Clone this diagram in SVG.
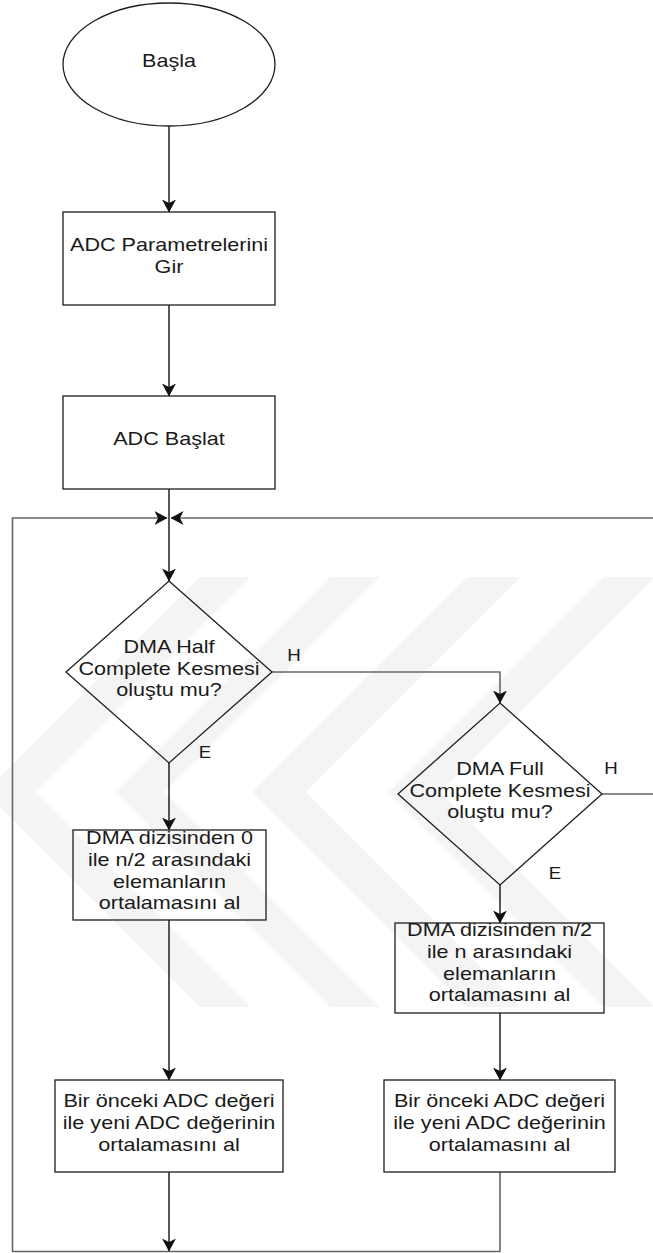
<svg xmlns="http://www.w3.org/2000/svg" width="653" height="1253" viewBox="0 0 653 1253">
  <style>
    .shape { fill: none; stroke: #1e1e1e; stroke-width: 1.3; }
    .edge { fill: none; stroke: #111; stroke-width: 1.4; }
    .loop { fill: none; stroke: #666; stroke-width: 1.6; }
    .lbl { font-family: "Liberation Sans", Arial, sans-serif; font-size: 18px; fill: #1a1a1a; text-anchor: middle; }
    .yn { font-family: "Liberation Sans", Arial, sans-serif; font-size: 17px; fill: #1a1a1a; text-anchor: middle; }
    .mark { fill: #f4f4f4; }
  </style>
  <defs>
    <marker id="arrow" viewBox="0 0 13 14" refX="12.5" refY="7" markerWidth="13" markerHeight="14" markerUnits="userSpaceOnUse" orient="auto">
      <path d="M0,0 L13,7 L0,14 L3.5,7 Z" fill="#111"/>
    </marker>
  </defs>

  <rect width="653" height="1253" fill="#ffffff"/>

  <!-- faint background emblem: nested chevrons -->
  <g id="emblem">
    <polygon class="mark" points="200,577 250,577 35,792 250,1007 200,1007 -15,792"/>
    <polygon class="mark" points="330,577 380,577 165,792 380,1007 330,1007 115,792"/>
    <polygon class="mark" points="467,577 521,577 306,792 521,1007 467,1007 252,792"/>
    <polygon class="mark" points="604,577 655,577 440,792 655,1007 604,1007 389,792"/>
  </g>

  <!-- connectors -->
  <g id="connectors">
    <line class="edge" x1="169" y1="126" x2="169" y2="212" marker-end="url(#arrow)"/>
    <line class="edge" x1="169" y1="305" x2="169" y2="396" marker-end="url(#arrow)"/>
    <line class="edge" x1="169" y1="489" x2="169" y2="581" marker-end="url(#arrow)"/>
    <!-- Half: H branch to second decision -->
    <polyline class="loop" points="272,672 500,672 500,703" marker-end="url(#arrow)"/>
    <!-- Half: E branch -->
    <line class="edge" x1="169" y1="763" x2="169" y2="830" marker-end="url(#arrow)"/>
    <line class="edge" x1="169" y1="920" x2="169" y2="1080" marker-end="url(#arrow)"/>
    <!-- Full: E branch -->
    <line class="edge" x1="500" y1="885" x2="500" y2="923" marker-end="url(#arrow)"/>
    <line class="edge" x1="500" y1="1013" x2="500" y2="1080" marker-end="url(#arrow)"/>
    <!-- Full: H branch returns over the top -->
    <polyline class="loop" points="602,794 660,794 660,518 171,518" marker-end="url(#arrow)"/>
    <!-- return path from the right column -->
    <polyline class="loop" points="500,1172 500,1251.5 12.5,1251.5 12.5,518 167,518" marker-end="url(#arrow)"/>
    <line class="edge" x1="169" y1="1172" x2="169" y2="1251" marker-end="url(#arrow)"/>
  </g>

  <g id="start">
    <ellipse class="shape" cx="169" cy="64.5" rx="106" ry="61.5"/>
    <text class="lbl" transform="matrix(1.2 0 0 1 169 0)" y="67.5">Başla</text>
  </g>

  <g id="params">
    <rect class="shape" x="63" y="212" width="212" height="93"/>
    <text class="lbl" transform="matrix(1.2 0 0 1 169 0)" y="251">ADC Parametrelerini</text>
    <text class="lbl" transform="matrix(1.2 0 0 1 169 0)" y="272.6">Gir</text>
  </g>

  <g id="start-adc">
    <rect class="shape" x="63" y="396" width="212" height="93"/>
    <text class="lbl" transform="matrix(1.2 0 0 1 169 0)" y="445.5">ADC Başlat</text>
  </g>

  <g id="half-check">
    <polygon class="shape" points="169,581 272,672 169,763 66,672"/>
    <text class="lbl" transform="matrix(1.2 0 0 1 169 0)" y="653.5">DMA Half</text>
    <text class="lbl" transform="matrix(1.2 0 0 1 169 0)" y="675">Complete Kesmesi</text>
    <text class="lbl" transform="matrix(1.2 0 0 1 169 0)" y="696.5">oluştu mu?</text>
    <text class="yn" transform="matrix(1.1 0 0 1 294 0)" y="661">H</text>
    <text class="yn" transform="matrix(1.1 0 0 1 205 0)" y="758">E</text>
  </g>

  <g id="full-check">
    <polygon class="shape" points="500,703 602,794 500,885 398,794"/>
    <text class="lbl" transform="matrix(1.2 0 0 1 500 0)" y="775.5">DMA Full</text>
    <text class="lbl" transform="matrix(1.2 0 0 1 500 0)" y="797">Complete Kesmesi</text>
    <text class="lbl" transform="matrix(1.2 0 0 1 500 0)" y="818.5">oluştu mu?</text>
    <text class="yn" transform="matrix(1.1 0 0 1 611 0)" y="774">H</text>
    <text class="yn" transform="matrix(1.1 0 0 1 555 0)" y="879">E</text>
  </g>

  <g id="avg-first-half">
    <rect class="shape" x="73" y="830" width="193" height="90"/>
    <text class="lbl" transform="matrix(1.2 0 0 1 169.5 0)" y="844.5">DMA dizisinden 0</text>
    <text class="lbl" transform="matrix(1.2 0 0 1 169.5 0)" y="866.1">ile n/2 arasındaki</text>
    <text class="lbl" transform="matrix(1.2 0 0 1 169.5 0)" y="887.7">elemanların</text>
    <text class="lbl" transform="matrix(1.2 0 0 1 169.5 0)" y="909.3">ortalamasını al</text>
  </g>

  <g id="avg-second-half">
    <rect class="shape" x="395" y="923" width="209" height="90"/>
    <text class="lbl" transform="matrix(1.2 0 0 1 499.5 0)" y="936.5">DMA dizisinden n/2</text>
    <text class="lbl" transform="matrix(1.2 0 0 1 499.5 0)" y="958.1">ile n arasındaki</text>
    <text class="lbl" transform="matrix(1.2 0 0 1 499.5 0)" y="979.7">elemanların</text>
    <text class="lbl" transform="matrix(1.2 0 0 1 499.5 0)" y="1001.3">ortalamasını al</text>
  </g>

  <g id="smooth-left">
    <rect class="shape" x="55" y="1080" width="228" height="92"/>
    <text class="lbl" transform="matrix(1.2 0 0 1 169 0)" y="1107.5">Bir önceki ADC değeri</text>
    <text class="lbl" transform="matrix(1.2 0 0 1 169 0)" y="1129.1">ile yeni ADC değerinin</text>
    <text class="lbl" transform="matrix(1.2 0 0 1 169 0)" y="1150.7">ortalamasını al</text>
  </g>

  <g id="smooth-right">
    <rect class="shape" x="384" y="1080" width="231" height="92"/>
    <text class="lbl" transform="matrix(1.2 0 0 1 499.5 0)" y="1107.5">Bir önceki ADC değeri</text>
    <text class="lbl" transform="matrix(1.2 0 0 1 499.5 0)" y="1129.1">ile yeni ADC değerinin</text>
    <text class="lbl" transform="matrix(1.2 0 0 1 499.5 0)" y="1150.7">ortalamasını al</text>
  </g>
</svg>
